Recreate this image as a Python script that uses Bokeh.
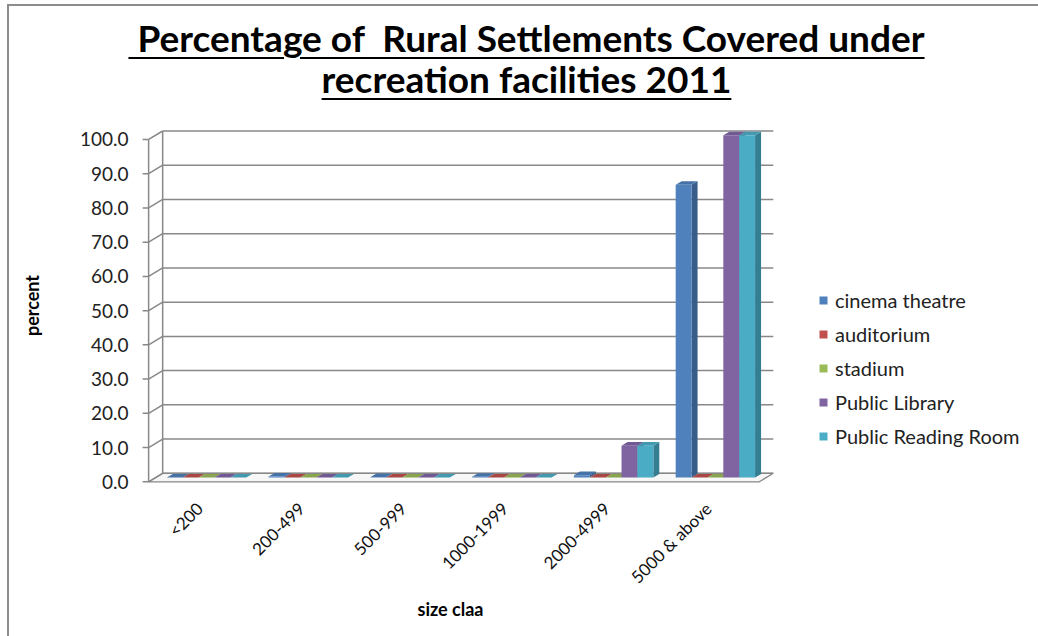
import math
from bokeh.plotting import figure
from bokeh.models import (ColumnDataSource, FixedTicker, Legend, LegendItem, Div,
                          NumeralTickFormatter, Range1d, Title)
from bokeh.layouts import column
from bokeh.embed import file_html
from bokeh.resources import INLINE

# ---------------- data ----------------
categories = ["<200", "200-499", "500-999", "1000-1999", "2000-4999", "5000 & above"]
series_names = ["cinema theatre", "auditorium", "stadium", "Public Library", "Public Reading Room"]
cinema_theatre = [0.0, 0.3, 0.1, 0.2, 0.7, 85.5]
auditorium = [0.0, 0.0, 0.0, 0.0, 0.0, 0.0]
stadium = [0.0, 0.0, 0.0, 0.0, 0.0, 0.0]
public_library = [0.0, 0.0, 0.0, 0.0, 9.3, 100.0]
public_reading_room = [0.0, 0.0, 0.0, 0.0, 9.3, 100.0]
y_ticks = [0, 10, 20, 30, 40, 50, 60, 70, 80, 90, 100]
title_line1 = " Percentage of  Rural Settlements Covered under"
title_line2 = "recreation facilities 2011"
x_title = "size claa"
y_title = "percent"

series_values = [cinema_theatre, auditorium, stadium, public_library, public_reading_room]
front_colors = ["#4F81BD", "#C0504D", "#9BBB59", "#8064A2", "#4BACC6"]
side_colors = ["#385D8A", "#8C3836", "#71893F", "#5C4776", "#357D91"]
top_colors = ["#4672A8", "#A84744", "#88A44E", "#715993", "#4299B0"]

FONT = "Lato"
GRID = "#888888"

# 3-D geometry (category units / value units)
DX, DY = 0.138, 2.48          # depth of floor / back wall
BX, BY = DX / 2, DY / 2       # bars sit mid-depth
SX, SY = 0.059, 1.05          # depth of each bar
BAR_W = 0.156
GAP = (1 - BAR_W * len(series_names)) / 2
TICK_LEN = 0.059
ncat = len(categories)
vmax = y_ticks[-1]

p = figure(width=1029, height=526,
           x_range=Range1d(-0.07, 8.744), y_range=Range1d(-0.5, 103.5),
           output_backend="svg", toolbar_location=None,
           min_border_left=132, min_border_right=0,
           min_border_top=17, min_border_bottom=153)
p.outline_line_color = None
p.grid.visible = False
p.background_fill_color = "white"
p.border_fill_color = "white"

# floor
p.patch(x=[0, ncat, ncat + DX, DX], y=[0, 0, DY, DY],
        fill_color="#f7f7f7", line_color=GRID, line_width=1.3)

# back wall gridlines, connectors and tick marks
p.segment(x0=[DX] * len(y_ticks), y0=[v + DY for v in y_ticks],
          x1=[ncat + DX] * len(y_ticks), y1=[v + DY for v in y_ticks],
          line_color=GRID, line_width=1.5)
p.segment(x0=[0] * len(y_ticks), y0=y_ticks,
          x1=[DX] * len(y_ticks), y1=[v + DY for v in y_ticks],
          line_color=GRID, line_width=1.5)
p.segment(x0=[-TICK_LEN] * len(y_ticks), y0=y_ticks,
          x1=[0] * len(y_ticks), y1=y_ticks, line_color=GRID, line_width=1.5)
p.segment(x0=[0, DX], y0=[0, DY], x1=[0, DX], y1=[vmax, vmax + DY],
          line_color=GRID, line_width=1.5)

front_renderers = []
for i, vals in enumerate(series_values):
    lefts = [c + GAP + i * BAR_W + BX for c in range(ncat)]
    rights = [l + BAR_W for l in lefts]
    tops = [v + BY for v in vals]
    side_xs = [[r, r + SX, r + SX, r] for r in rights]
    side_ys = [[BY, BY + SY, t + SY, t] for t in tops]
    top_xs = [[l, l + SX, r + SX, r] for l, r in zip(lefts, rights)]
    top_ys = [[t, t + SY, t + SY, t] for t in tops]
    p.patches(xs=side_xs, ys=side_ys, fill_color=side_colors[i], line_color=None)
    p.patches(xs=top_xs, ys=top_ys, fill_color=top_colors[i], line_color=None)
    src = ColumnDataSource(dict(left=lefts, right=rights, bottom=[BY] * ncat, top=tops))
    r = p.quad(left="left", right="right", bottom="bottom", top="top", source=src,
               fill_color=front_colors[i], line_color=None)
    front_renderers.append(r)

# y axis
yax = p.yaxis[0]
yax.ticker = FixedTicker(ticks=y_ticks)
yax.formatter = NumeralTickFormatter(format="0.0")
yax.axis_line_color = None
yax.major_tick_line_color = None
yax.minor_tick_line_color = None
yax.major_label_standoff = 7
yax.major_label_text_font = FONT
yax.major_label_text_font_size = "19px"
yax.major_label_text_color = "#222222"
yax.axis_label = y_title
yax.axis_label_text_font = FONT
yax.axis_label_text_font_style = "bold"
yax.axis_label_text_font_size = "18px"
yax.axis_label_text_color = "#000000"
yax.axis_label_standoff = 34

# x axis
xax = p.xaxis[0]
xax.ticker = FixedTicker(ticks=[c + 0.5 for c in range(ncat)])
xax.major_label_overrides = {c + 0.5: name for c, name in enumerate(categories)}
xax.major_label_orientation = math.pi / 4
xax.axis_line_color = None
xax.major_tick_line_color = None
xax.minor_tick_line_color = None
xax.major_label_standoff = 16
xax.major_label_text_font = FONT
xax.major_label_text_font_size = "17px"
xax.major_label_text_color = "#111111"

p.add_layout(Title(text=x_title, align="left", offset=276, standoff=0,
                   vertical_align="top",
                   text_font=FONT, text_font_style="bold", text_font_size="18px",
                   text_color="#000000"), "below")

legend = Legend(items=[LegendItem(label=n, renderers=[r]) for n, r in zip(series_names, front_renderers)],
                location=(677, 35), orientation="vertical",
                border_line_color=None, background_fill_alpha=0,
                padding=0, margin=0, spacing=10, label_height=20,
                glyph_height=10, glyph_width=10, label_standoff=7,
                label_text_font=FONT, label_text_font_size="20px",
                label_text_color="#222222")
p.add_layout(legend)

ul = "text-decoration:underline;text-decoration-thickness:2px;text-underline-offset:5px;"
html = ("<div style='width:1029px;text-align:center;font-family:Lato;font-weight:bold;"
        "font-size:37px;line-height:41px;padding-top:11px;padding-left:6px;color:#000;white-space:pre;'>"
        f"<span style='{ul}'>{title_line1}</span><br><span style='{ul}'>{title_line2}</span></div>")
div = Div(text=html, width=1029, height=104, margin=(0, 0, 0, 0))

layout = column(div, p, styles={"margin-left": "7px", "margin-top": "4px",
                                "border-top": "2px solid #8c8c8c",
                                "border-left": "2px solid #8c8c8c"})

open("out.html", "w").write(file_html(layout, INLINE))
